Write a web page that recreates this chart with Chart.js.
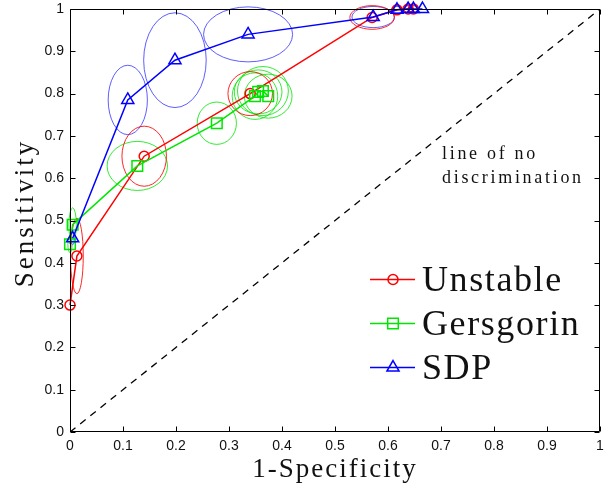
<!DOCTYPE html>
<html>
<head>
<meta charset="utf-8">
<script src="https://cdn.jsdelivr.net/npm/chart.js@4.4.1/dist/chart.umd.min.js"></script>
<style>
  html, body { margin: 0; padding: 0; background: #fff; }
  #wrap { width: 609px; height: 488px; }
</style>
</head>
<body>
<div id="wrap"><canvas id="roc" width="609" height="488"></canvas></div>
<script>
/* ROC curves - Unstable / Gersgorin / SDP, with ellipses around each point */

const xTicks = [0, 0.1, 0.2, 0.3, 0.4, 0.5, 0.6, 0.7, 0.8, 0.9, 1];
const yTicks = [0, 0.1, 0.2, 0.3, 0.4, 0.5, 0.6, 0.7, 0.8, 0.9, 1];

const seriesNames = ["Unstable", "Gersgorin", "SDP"];

// Unstable (red, circles)
const unstableX  = [0.000, 0.013, 0.140, 0.340, 0.570, 0.617, 0.638, 0.648];
const unstableY  = [0.300, 0.416, 0.652, 0.800, 0.980, 0.998, 1.000, 1.000];
const unstableRx = [0.000, 0.012, 0.042, 0.042, 0.042, 0.010, 0.009, 0.008];
const unstableRy = [0.000, 0.089, 0.071, 0.052, 0.028, 0.010, 0.008, 0.008];

// Gersgorin (green, squares)
const gersX  = [0.000, 0.005, 0.127, 0.277, 0.349, 0.355, 0.364, 0.374];
const gersY  = [0.444, 0.490, 0.629, 0.730, 0.794, 0.804, 0.806, 0.794];
const gersRx = [0.004, 0.007, 0.057, 0.037, 0.043, 0.045, 0.048, 0.045];
const gersRy = [0.020, 0.040, 0.058, 0.050, 0.055, 0.052, 0.058, 0.052];

// SDP (blue, triangles)
const sdpX  = [0.005, 0.109, 0.198, 0.336, 0.572, 0.617, 0.638, 0.648, 0.665];
const sdpY  = [0.458, 0.785, 0.879, 0.940, 0.981, 0.998, 1.000, 1.000, 1.000];
const sdpRx = [0.004, 0.037, 0.059, 0.084, 0.040, 0.010, 0.008, 0.008, 0.000];
const sdpRy = [0.015, 0.082, 0.112, 0.065, 0.025, 0.008, 0.008, 0.008, 0.000];

// line of no discrimination
const diagX = [0, 1];
const diagY = [0, 1];

const SERIF = "'Liberation Serif', 'Times New Roman', serif";
const SANS = "'Liberation Sans', Arial, sans-serif";

function pts(xs, ys) {
    return xs.map(function (x, i) { return { x: x, y: ys[i] }; });
}

const ellipses = {
    Unstable:  { rx: unstableRx, ry: unstableRy, color: "rgba(255,0,0,0.85)" },
    Gersgorin: { rx: gersRx, ry: gersRy, color: "rgba(0,230,0,0.8)" },
    SDP:       { rx: sdpRx, ry: sdpRy, color: "rgba(40,40,255,0.75)" }
};

const styles = {
    Unstable:  { color: "#ff0000", pointStyle: "circle", radius: 5 },
    Gersgorin: { color: "#00e600", pointStyle: "rect", radius: 7.5 },
    SDP:       { color: "#0000ff", pointStyle: "triangle", radius: 7 }
};

function seriesDataset(name, xs, ys, order) {
    const s = styles[name];
    return {
        label: name,
        data: pts(xs, ys),
        showLine: true,
        borderColor: s.color,
        borderWidth: 1.5,
        pointStyle: s.pointStyle,
        pointRadius: s.radius,
        pointHoverRadius: s.radius,
        pointBorderColor: s.color,
        pointBackgroundColor: "rgba(0,0,0,0)",
        pointBorderWidth: 1.5,
        tension: 0,
        clip: 10,
        order: order
    };
}

const rocPlugin = {
    id: "rocDecor",
    beforeDatasetsDraw: function (chart) {
        const ctx = chart.ctx;
        const xs = chart.scales.x, ys = chart.scales.y;
        ctx.save();
        ctx.lineWidth = 1;
        chart.data.datasets.forEach(function (ds) {
            const e = ellipses[ds.label];
            if (!e) { return; }
            ctx.strokeStyle = e.color;
            ds.data.forEach(function (p, i) {
                if (!e.rx[i] || !e.ry[i]) { return; }
                const cx = xs.getPixelForValue(p.x);
                const cy = ys.getPixelForValue(p.y);
                const rx = Math.abs(xs.getPixelForValue(p.x + e.rx[i]) - cx);
                const ry = Math.abs(ys.getPixelForValue(p.y + e.ry[i]) - cy);
                ctx.beginPath();
                ctx.ellipse(cx, cy, rx, ry, 0, 0, Math.PI * 2);
                ctx.stroke();
            });
        });
        ctx.restore();
    },
    afterDraw: function (chart) {
        const ctx = chart.ctx;
        const a = chart.chartArea;
        const xs = chart.scales.x, ys = chart.scales.y;
        const L = Math.round(a.left) + 0.5, R = Math.round(a.right) - 0.5;
        const T = Math.round(a.top) + 0.5, B = Math.round(a.bottom) - 0.5;
        ctx.save();

        // box + inward ticks
        ctx.strokeStyle = "#000";
        ctx.lineWidth = 1;
        ctx.beginPath();
        ctx.rect(L, T, R - L, B - T);
        const tl = 5;
        xTicks.forEach(function (v) {
            const px = Math.round(xs.getPixelForValue(v)) + 0.5;
            ctx.moveTo(px, B); ctx.lineTo(px, B - tl);
            ctx.moveTo(px, T); ctx.lineTo(px, T + tl);
        });
        yTicks.forEach(function (v) {
            const py = Math.round(ys.getPixelForValue(v)) + 0.5;
            ctx.moveTo(L, py); ctx.lineTo(L + tl, py);
            ctx.moveTo(R, py); ctx.lineTo(R - tl, py);
        });
        ctx.stroke();

        // axis titles
        ctx.fillStyle = "#111";
        ctx.font = "27px " + SERIF;
        ctx.letterSpacing = "2px";
        ctx.textAlign = "center";
        ctx.textBaseline = "alphabetic";
        ctx.fillText("1-Specificity", (a.left + a.right) / 2, 477);
        ctx.save();
        ctx.translate(33, 213);
        ctx.rotate(-Math.PI / 2);
        ctx.letterSpacing = "3px";
        ctx.fillText("Sensitivity", 0, 0);
        ctx.restore();

        // annotation
        ctx.font = "18px " + SERIF;
        ctx.letterSpacing = "2.7px";
        ctx.textAlign = "left";
        ctx.fillText("line of no", 442, 159);
        ctx.fillText("discrimination", 442, 183);

        // legend
        const rows = [279, 323, 367];
        ctx.font = "36px " + SERIF;
        ctx.letterSpacing = "1.6px";
        seriesNames.forEach(function (name, i) {
            const s = styles[name];
            const y = rows[i];
            ctx.strokeStyle = s.color;
            ctx.lineWidth = 1.5;
            ctx.beginPath();
            ctx.moveTo(370, y + 0.5);
            ctx.lineTo(415, y + 0.5);
            ctx.stroke();
            ctx.fillStyle = "rgba(0,0,0,0)";
            Chart.helpers.drawPoint(ctx, {
                pointStyle: s.pointStyle,
                radius: s.radius,
                rotation: 0,
                borderWidth: 1.5
            }, 393, y + 0.5);
            ctx.fillStyle = "#111";
            ctx.fillText(name, 422, y + 12);
        });
        ctx.restore();
    }
};

new Chart(document.getElementById("roc").getContext("2d"), {
    type: "scatter",
    data: {
        datasets: [
            seriesDataset("SDP", sdpX, sdpY, 1),
            seriesDataset("Gersgorin", gersX, gersY, 2),
            seriesDataset("Unstable", unstableX, unstableY, 3),
            {
                label: "diag",
                data: pts(diagX, diagY),
                showLine: true,
                borderColor: "#000",
                borderWidth: 1.3,
                borderDash: [7, 6],
                pointRadius: 0,
                order: 4
            }
        ]
    },
    options: {
        responsive: false,
        animation: false,
        layout: { padding: { top: 4, right: 9, left: 0, bottom: 0 } },
        plugins: { legend: { display: false }, tooltip: { enabled: false } },
        scales: {
            x: {
                type: "linear",
                min: 0, max: 1,
                afterBuildTicks: function (s) { s.ticks = xTicks.map(function (v) { return { value: v }; }); },
                afterFit: function (s) { s.height = 56; s.paddingLeft = 0; s.paddingRight = 0; },
                grid: { display: false, drawTicks: false },
                border: { display: false },
                ticks: {
                    padding: 6,
                    color: "#111",
                    font: { family: SANS, size: 14 },
                    maxRotation: 0,
                    callback: function (v) { return String(+v.toFixed(1)); }
                }
            },
            y: {
                type: "linear",
                min: 0, max: 1,
                afterBuildTicks: function (s) { s.ticks = yTicks.map(function (v) { return { value: v }; }); },
                afterFit: function (s) { s.width = 70; s.paddingTop = 0; s.paddingBottom = 0; },
                grid: { display: false, drawTicks: false },
                border: { display: false },
                ticks: {
                    padding: 6,
                    color: "#111",
                    font: { family: SANS, size: 14 },
                    callback: function (v) { return String(+v.toFixed(1)); }
                }
            }
        }
    },
    plugins: [rocPlugin]
});
</script>
</body>
</html>
